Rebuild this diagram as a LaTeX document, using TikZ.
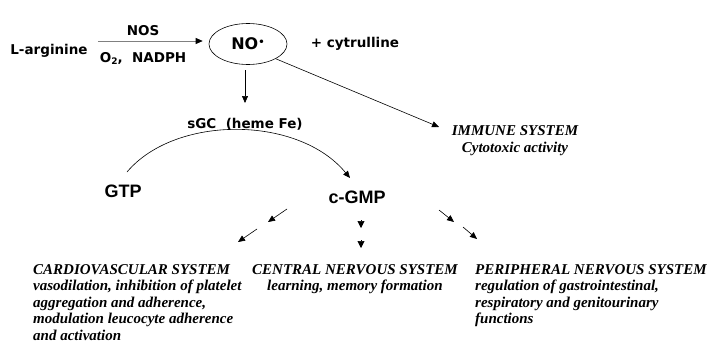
\documentclass[tikz,border=0pt]{standalone}
\usepackage{fontspec}
\setmainfont{Liberation Serif}
\setsansfont{Liberation Sans}
\newfontfamily\verdfont{DejaVu Sans}
\usetikzlibrary{arrows.meta,shapes.geometric}

\begin{document}
\begin{tikzpicture}[
    x=1pt, y=-1pt,
    chem/.style={font=\verdfont\bfseries\fontsize{13.5}{16}\selectfont, inner sep=0pt, anchor=base},
    big/.style={font=\sffamily\bfseries\fontsize{18}{21}\selectfont, inner sep=0pt, anchor=base},
    sysname/.style={font=\bfseries\itshape\fontsize{15}{16.6}\selectfont, inner sep=0pt, anchor=base west, align=left},
    sysblock/.style={sysname, anchor=north west},
    thinarr/.style={line width=0.6pt, -{Triangle[length=7pt,width=6pt]}},
    tiponly/.style={line width=0.6pt, -{Triangle[length=7pt,width=7pt]}, shorten <=0pt}
]
\useasboundingbox[fill=white] (0,0) rectangle (710,343);

%  -- NO synthesis  --
\node[chem] (larg) at (49,54) {L-arginine};
\node[chem] (nos)  at (143,35) {NOS};
\node[chem] (cofac) at (143,62) {O\raisebox{-0.35ex}{\fontsize{9}{9}\selectfont 2},\ \ NADPH};
\node[ellipse, draw, line width=0.6pt, minimum width=78pt, minimum height=41pt, inner sep=0pt,
      font=\verdfont\bfseries\fontsize{16}{18}\selectfont] (no) at (248,44) {NO\raisebox{0.55ex}{\fontsize{10}{10}\selectfont •}};
\node[chem] (cyt)  at (355,47) {+ cytrulline};
\draw[line width=0.7pt, gray, -{Triangle[length=7pt,width=6pt,color=black]}] ([xshift=10pt]larg.east |- no.center) ++(0,-3) coordinate (nosa) -- ([xshift=-6pt]no.west |- nosa);

%  -- sGC / immune  --
\node[chem] (sgc) at (245,128) {sGC\ \ (heme Fe)};
\draw[thinarr] ([yshift=-5.5pt]no.south -| sgc) -- ([yshift=25pt]sgc.base);
\node[sysname, anchor=base] (imm) at (515,135) {IMMUNE SYSTEM};
\node[sysname, anchor=base] (cyto) at (515,152) {Cytotoxic activity};
\coordinate (immtip) at (439,127);
\draw[thinarr] (no.-28) -- (immtip);

%  -- GTP -> c-GMP  --
\node[big] (gtp)  at (123,197) {GTP};
\node[big] (cgmp) at (357,203) {c-GMP};
\coordinate (arcs) at (127,172);
\coordinate (arce) at (350,178);
\draw[thinarr] (arcs) .. controls (175,115) and (298,115) .. (arce);

%  -- c-GMP targets  --
\coordinate (cva) at (287,209); \coordinate (cvb) at (268,222);
\coordinate (cvc) at (257,229); \coordinate (cvd) at (238,242);
\draw[thinarr] (cva) -- (cvb);
\draw[thinarr] (cvc) -- (cvd);
\coordinate (cna) at (361,220); \coordinate (cnb) at (361,228);
\coordinate (cnc) at (361,240); \coordinate (cnd) at (361,248);
\draw[tiponly] (cna) -- (cnb);
\draw[tiponly] (cnc) -- (cnd);
\coordinate (pna) at (439,210); \coordinate (pnb) at (454,222);
\coordinate (pnc) at (463,227); \coordinate (pnd) at (477,239);
\draw[thinarr] (pna) -- (pnb);
\draw[thinarr] (pnc) -- (pnd);

\node[sysblock] (cv) at (33,264) {CARDIOVASCULAR SYSTEM\\vasodilation, inhibition of platelet\\aggregation and adherence,\\modulation leucocyte adherence\\and activation};
\node[sysname] (cns) at (252,274) {CENTRAL NERVOUS SYSTEM};
\node[sysname] (cnst) at (267,290.6) {learning, memory formation};
\node[sysblock] (pns) at (475,264) {PERIPHERAL NERVOUS SYSTEM\\regulation of gastrointestinal,\\respiratory and genitourinary\\functions};

\end{tikzpicture}
\end{document}
